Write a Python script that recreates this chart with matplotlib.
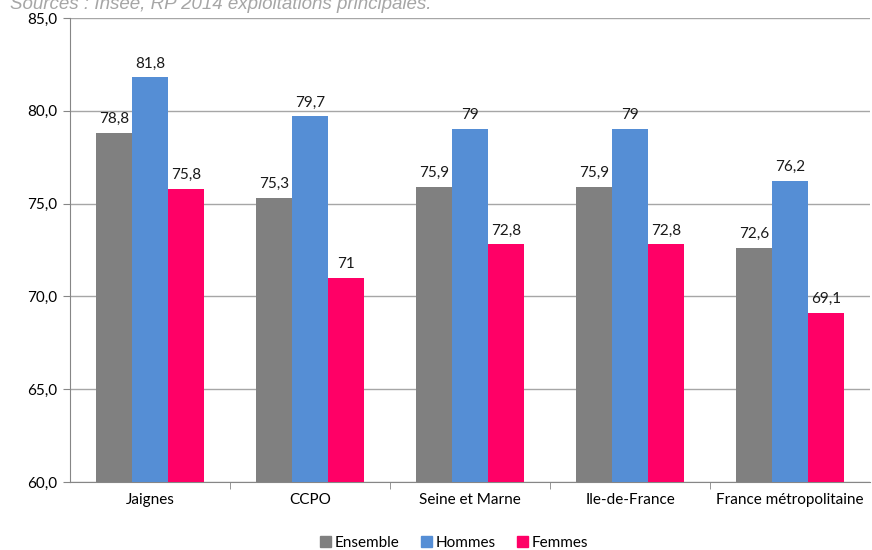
import numpy as np
import matplotlib.pyplot as plt
from matplotlib.patches import Patch

plt.rcParams['font.family'] = ['Lato', 'DejaVu Sans']

categories = ['Jaignes', 'CCPO', 'Seine et Marne', 'Ile-de-France', 'France métropolitaine']
ensemble = [78.8, 75.3, 75.9, 75.9, 72.6]
hommes = [81.8, 79.7, 79.0, 79.0, 76.2]
femmes = [75.8, 71.0, 72.8, 72.8, 69.1]
ens_labels = ['78,8', '75,3', '75,9', '75,9', '72,6']
hom_labels = ['81,8', '79,7', '79', '79', '76,2']
fem_labels = ['75,8', '71', '72,8', '72,8', '69,1']

series = [('Ensemble', ensemble, ens_labels, '#808080'),
          ('Hommes', hommes, hom_labels, '#558ED5'),
          ('Femmes', femmes, fem_labels, '#FF0066')]

fs = 11

fig = plt.figure(figsize=(8.72, 5.5), dpi=100)
ax = fig.add_axes([70 / 872, 68 / 550, 800 / 872, 464 / 550])

x = np.arange(len(categories))
w = 0.225
for i, (name, vals, labs, col) in enumerate(series):
    pos = x + (i - 1) * w
    ax.bar(pos, np.array(vals) - 60, bottom=60, width=w, color=col, zorder=3)
    for p, v, lab in zip(pos, vals, labs):
        ax.annotate(lab, (p, v), xytext=(0, 5), textcoords='offset points',
                    ha='center', va='bottom', fontsize=fs, color='#1a1a1a')

ax.set_xlim(-0.5, len(categories) - 0.5)
ax.set_ylim(60, 85)
yt = np.arange(60, 86, 5)
ax.set_yticks(yt)
ax.set_yticklabels([('%.1f' % v).replace('.', ',') for v in yt])
ax.yaxis.grid(True, color='#a6a6a6', linewidth=1, zorder=0)
ax.set_axisbelow(True)

ax.set_xticks(x)
ax.set_xticklabels(categories)
ax.set_xticks(np.arange(0.5, len(categories) - 0.5, 1), minor=True)
ax.tick_params(axis='x', which='major', length=0, pad=8, labelsize=fs)
ax.tick_params(axis='x', which='minor', length=5, color='#868686')
ax.tick_params(axis='y', length=5, color='#868686', labelsize=fs, pad=4)

for s in ['top', 'right']:
    ax.spines[s].set_visible(False)
for s in ['left', 'bottom']:
    ax.spines[s].set_color('#868686')

handles = [Patch(color=c) for _, _, _, c in series]
fig.legend(handles, [n for n, _, _, _ in series], loc='center', ncol=3,
           bbox_to_anchor=(0.521, 0.013), frameon=False, fontsize=fs,
           handlelength=0.7, handleheight=0.7, handletextpad=0.25, columnspacing=1.4)

# source line, partly cut at the top as in the original export
fig.text(10 / 872, 1 - 9 / 550, 'Sources : Insee, RP 2014 exploitations principales.',
         style='italic', color='#a6a6a6', fontsize=13.5,
         family=['Liberation Sans', 'DejaVu Sans'], va='baseline', ha='left')

fig.savefig('out.png', dpi=100)
